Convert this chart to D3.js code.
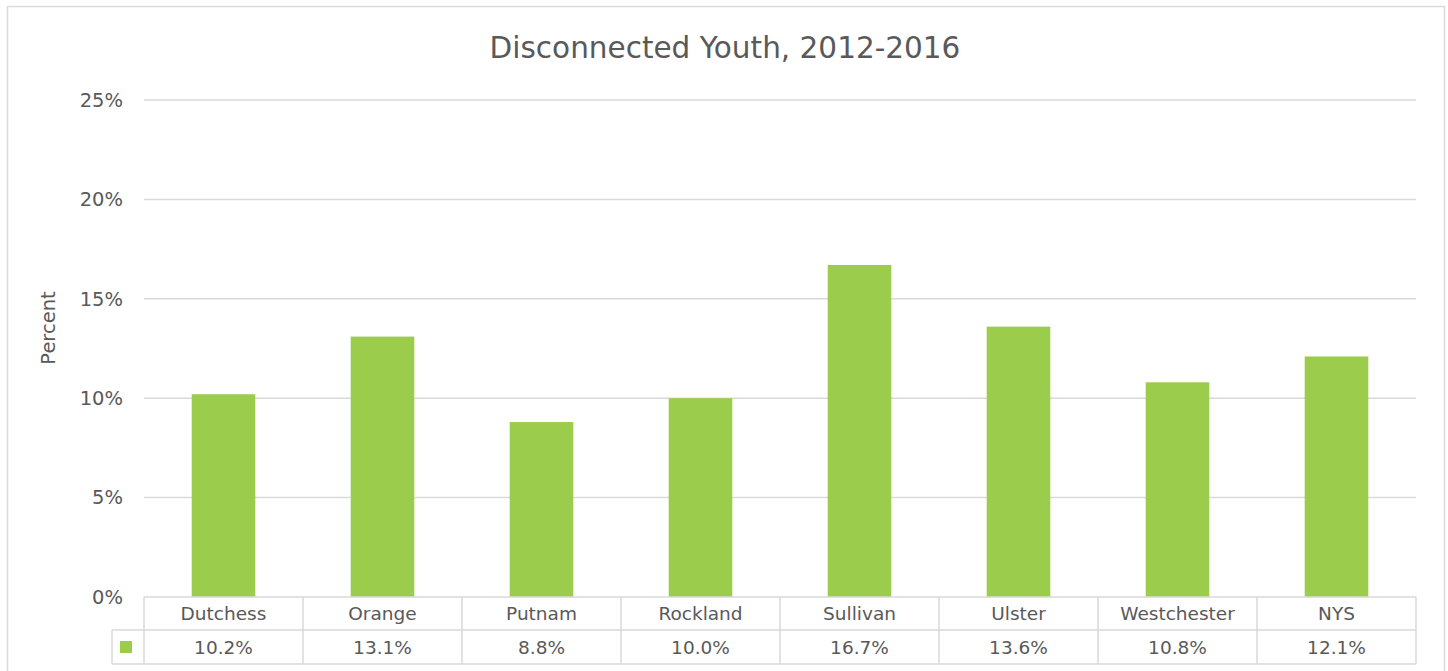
<!DOCTYPE html>
<html><head><meta charset="utf-8">
<script src="https://cdn.jsdelivr.net/npm/d3@7"></script>
<style>body{margin:0;background:#fff;}svg{display:block;}</style>
</head><body>
<svg id="c" width="1448" height="671"></svg>
<script>
const categories = ["Dutchess","Orange","Putnam","Rockland","Sullivan","Ulster","Westchester","NYS"];
const values = [10.2, 13.1, 8.8, 10.0, 16.7, 13.6, 10.8, 12.1];
const yTicks = [0, 5, 10, 15, 20, 25];
const title = "Disconnected Youth, 2012-2016";
const yLabel = "Percent";

(function(){
const font = "'Century Gothic', 'DejaVu Sans', sans-serif";
const textColor = "#595959";
const gridColor = "#d9d9d9";
const barColor = "#9bcc4c";

const svg = d3.select("#c");
const pLeft = 144, pRight = 1416, pTop = 100, pBottom = 597;

svg.append("rect").attr("x",7.5).attr("y",6.5).attr("width",1437).attr("height",680)
  .attr("fill","#fff").attr("stroke",gridColor).attr("stroke-width",1.5);

svg.append("text").attr("x",725).attr("y",58).attr("text-anchor","middle")
  .attr("font-family",font).attr("font-size",29.5).attr("fill",textColor).text(title);

const x = d3.scaleBand().domain(categories).range([pLeft,pRight]).paddingInner(0.6).paddingOuter(0.3);
const xc = d3.scaleBand().domain(categories).range([pLeft,pRight]);
const y = d3.scaleLinear().domain([0,25]).range([pBottom,pTop]);

svg.append("g").selectAll("line").data(yTicks.filter(d=>d>0)).join("line")
  .attr("x1",pLeft).attr("x2",pRight).attr("y1",d=>y(d)).attr("y2",d=>y(d))
  .attr("stroke",gridColor).attr("stroke-width",1.5);

const yAxis = d3.axisLeft(y).tickValues(yTicks).tickFormat(d=>d+"%").tickSize(0).tickPadding(21);
const gy = svg.append("g").attr("transform",`translate(${pLeft},0)`).call(yAxis);
gy.select(".domain").remove();
gy.selectAll("text").attr("font-family",font).attr("font-size",19.5).attr("fill",textColor);

svg.append("text").attr("transform",`translate(55,328) rotate(-90)`).attr("text-anchor","middle")
  .attr("font-family",font).attr("font-size",19.5).attr("fill",textColor).text(yLabel);

svg.append("g").selectAll("rect").data(values).join("rect")
  .attr("x",(d,i)=>x(categories[i])).attr("width",x.bandwidth())
  .attr("y",d=>y(d)).attr("height",d=>y(0)-y(d)).attr("fill",barColor);

const rowMid = 630, rowBot = 664, keyLeft = 112;
const tg = svg.append("g").attr("stroke",gridColor).attr("stroke-width",1.5);
tg.append("line").attr("x1",pLeft).attr("x2",pRight).attr("y1",pBottom).attr("y2",pBottom);
tg.append("line").attr("x1",keyLeft).attr("x2",pRight).attr("y1",rowMid).attr("y2",rowMid);
tg.append("line").attr("x1",keyLeft).attr("x2",pRight).attr("y1",rowBot).attr("y2",rowBot);
tg.append("line").attr("x1",keyLeft).attr("x2",keyLeft).attr("y1",rowMid).attr("y2",rowBot);
const edges = categories.map(c=>xc(c)).concat([pRight]);
tg.selectAll("line.v").data(edges).join("line").attr("class","v")
  .attr("x1",d=>d).attr("x2",d=>d).attr("y1",pBottom).attr("y2",rowBot);

svg.append("g").selectAll("text").data(categories).join("text")
  .attr("x",d=>xc(d)+xc.bandwidth()/2).attr("y",620).attr("text-anchor","middle")
  .attr("font-family",font).attr("font-size",18.5).attr("fill",textColor).text(d=>d);
svg.append("g").selectAll("text").data(values).join("text")
  .attr("x",(d,i)=>xc(categories[i])+xc.bandwidth()/2).attr("y",654).attr("text-anchor","middle")
  .attr("font-family",font).attr("font-size",18.5).attr("fill",textColor).text(d=>d.toFixed(1)+"%");

svg.append("rect").attr("x",120).attr("y",641).attr("width",12).attr("height",12).attr("fill",barColor);
})();
</script>
</body></html>
